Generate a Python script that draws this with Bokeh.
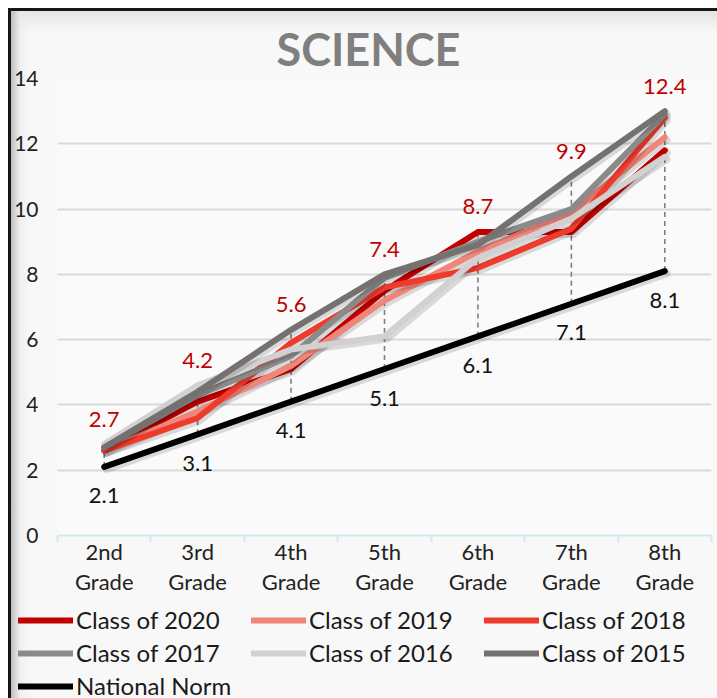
from bokeh.plotting import figure
from bokeh.layouts import column
from bokeh.models import FixedTicker, Legend, LegendItem, Range1d, ColumnDataSource
from bokeh.transform import dodge
from bokeh.embed import file_html
from bokeh.resources import INLINE
from bokeh.core.properties import value

# ---------------- data ----------------
grades = ["2nd Grade", "3rd Grade", "4th Grade", "5th Grade", "6th Grade", "7th Grade", "8th Grade"]
class_2020 = [2.6, 4.1, 5.1, 7.5, 9.3, 9.3, 11.8]
class_2019 = [2.6, 3.8, 5.2, 7.2, 8.7, 9.9, 12.2]
class_2018 = [2.6, 3.6, 5.9, 7.6, 8.2, 9.4, 12.8]
class_2017 = [2.7, 4.3, 5.5, 7.9, 9.0, 10.0, 12.9]
class_2016 = [2.8, 4.6, 5.7, 6.1, 8.5, 9.7, 11.6]
class_2015 = [2.7, 4.4, 6.3, 8.0, 8.9, 11.0, 13.0]
national_norm = [2.1, 3.1, 4.1, 5.1, 6.1, 7.1, 8.1]
highlight_labels = [2.7, 4.2, 5.6, 7.4, 8.7, 9.9, 12.4]
y_ticks = [0, 2, 4, 6, 8, 10, 12, 14]

series = [
    ("Class of 2020", class_2020, "#c00000"),
    ("Class of 2019", class_2019, "#f0857a"),
    ("Class of 2018", class_2018, "#ef3b2c"),
    ("Class of 2017", class_2017, "#8a8a8a"),
    ("Class of 2016", class_2016, "#d2d0d0"),
    ("Class of 2015", class_2015, "#767171"),
    ("National Norm", national_norm, "#000000"),
]

FONT = "Lato"
xs = [i + 0.5 for i in range(len(grades))]

p = figure(width=706, height=587, output_backend="svg", toolbar_location=None,
           x_range=Range1d(0, len(grades)), y_range=Range1d(0, 14),
           min_border_left=45, min_border_right=6, min_border_top=67, min_border_bottom=62)
p.frame_align = False
p.background_fill_color = "#fafafa"
p.border_fill_color = None
p.outline_line_color = None

p.title.text = "SCIENCE"
p.title.align = "left"
p.title.offset = 219
p.title.text_font = FONT
p.title.text_font_size = "45px"
p.title.text_font_style = "bold"
p.title.text_color = "#7f7f7f"
p.title.standoff = 6

# axes
p.yaxis.ticker = FixedTicker(ticks=y_ticks)
p.yaxis.axis_line_color = None
p.yaxis.major_tick_line_color = None
p.yaxis.minor_tick_line_color = None
p.yaxis.major_tick_out = 0
p.yaxis.minor_tick_out = 0
p.yaxis.major_label_text_font = FONT
p.yaxis.major_label_text_font_size = "21px"
p.yaxis.major_label_text_color = "#222222"
p.yaxis.major_label_standoff = 19

p.xaxis.ticker = FixedTicker(ticks=xs, minor_ticks=list(range(len(grades) + 1)))
p.xaxis.major_label_overrides = {x: g.replace(" ", "\n") for x, g in zip(xs, grades)}
p.xaxis.axis_line_color = "#d3e9ef"
p.xaxis.axis_line_width = 2
p.xaxis.major_tick_line_color = None
p.xaxis.major_tick_out = 0
p.xaxis.major_tick_in = 0
p.xaxis.minor_tick_line_color = "#d3e9ef"
p.xaxis.minor_tick_line_width = 2
p.xaxis.minor_tick_out = 7
p.xaxis.minor_tick_in = 0
p.xaxis.major_label_text_font = FONT
p.xaxis.major_label_text_font_size = "22px"
p.xaxis.major_label_text_color = "#222222"
p.xaxis.major_label_text_line_height = 1.14
p.xaxis.major_label_standoff = -5

p.xgrid.grid_line_color = None
p.ygrid.grid_line_color = "#d9d9d9"
p.ygrid.grid_line_width = 2

# high-low lines
all_vals = [s[1] for s in series]
hi = [max(v[i] for v in all_vals) for i in range(len(grades))]
lo = [min(v[i] for v in all_vals) for i in range(len(grades))]
p.segment(x0=xs, y0=lo, x1=xs, y1=hi, line_color="#7f7f7f", line_width=1.6, line_dash="5 4")

# lines with a soft drop shadow
for name, vals, col in series:
    src = ColumnDataSource(dict(x=xs, y=vals))
    p.line(x=dodge("x", 0.025, range=p.x_range), y=dodge("y", -0.08, range=p.y_range), source=src,
           line_color="#000000", line_alpha=0.13, line_width=7, line_cap="round", line_join="round")
    p.line(x="x", y="y", source=src, line_color=col, line_width=6, line_cap="round", line_join="round")

# data labels
class_max = [max(v[i] for v in all_vals[:-1]) for i in range(len(grades))]
p.text(x=xs, y=class_max, text=[f"{v:.1f}" for v in highlight_labels], y_offset=-25,
       text_font=value(FONT), text_font_size="22px", text_color="#c00000",
       text_align="center", text_baseline="middle")
p.text(x=xs, y=national_norm, text=[f"{v:.1f}" for v in national_norm], y_offset=29,
       text_font=value(FONT), text_font_size="22px", text_color="#111111",
       text_align="center", text_baseline="middle")

# legend strip below the chart (renderers kept out of its visible range)
q = figure(width=706, height=100, output_backend="svg", toolbar_location=None,
           x_range=Range1d(-20, -19), y_range=Range1d(-20, -19),
           x_axis_location=None, y_axis_location=None, min_border=0)
q.frame_align = False
q.background_fill_color = None
q.border_fill_color = None
q.outline_line_color = None
q.grid.grid_line_color = None
items = []
for name, vals, col in series:
    r = q.line(x=xs, y=vals, line_color=col, line_width=6, line_cap="round")
    items.append(LegendItem(label=name, renderers=[r]))
legend = Legend(items=items, location="top_left", orientation="horizontal", ncols=3,
                glyph_width=55, glyph_height=26, label_height=26, label_width=171,
                label_standoff=3, spacing=4, padding=0, margin=7,
                label_text_font=FONT, label_text_font_size="24px", label_text_color="#1a1a1a",
                background_fill_alpha=0, border_line_color=None)
q.add_layout(legend, "center")

layout = column(p, q, spacing=0)
layout.styles = {
    "margin-left": "8px", "margin-top": "8px",
    "border-left": "3px solid #161616", "border-top": "3px solid #161616",
    "background": ("linear-gradient(90deg, rgba(190,190,190,1) 0px, rgba(235,235,235,0.6) 9px, rgba(248,248,248,0) 20px), "
                   "linear-gradient(180deg, rgba(228,228,228,1) 0px, rgba(248,248,248,0) 22px), #f8f8f8"),
}

open("out.html", "w").write(file_html(layout, INLINE))
